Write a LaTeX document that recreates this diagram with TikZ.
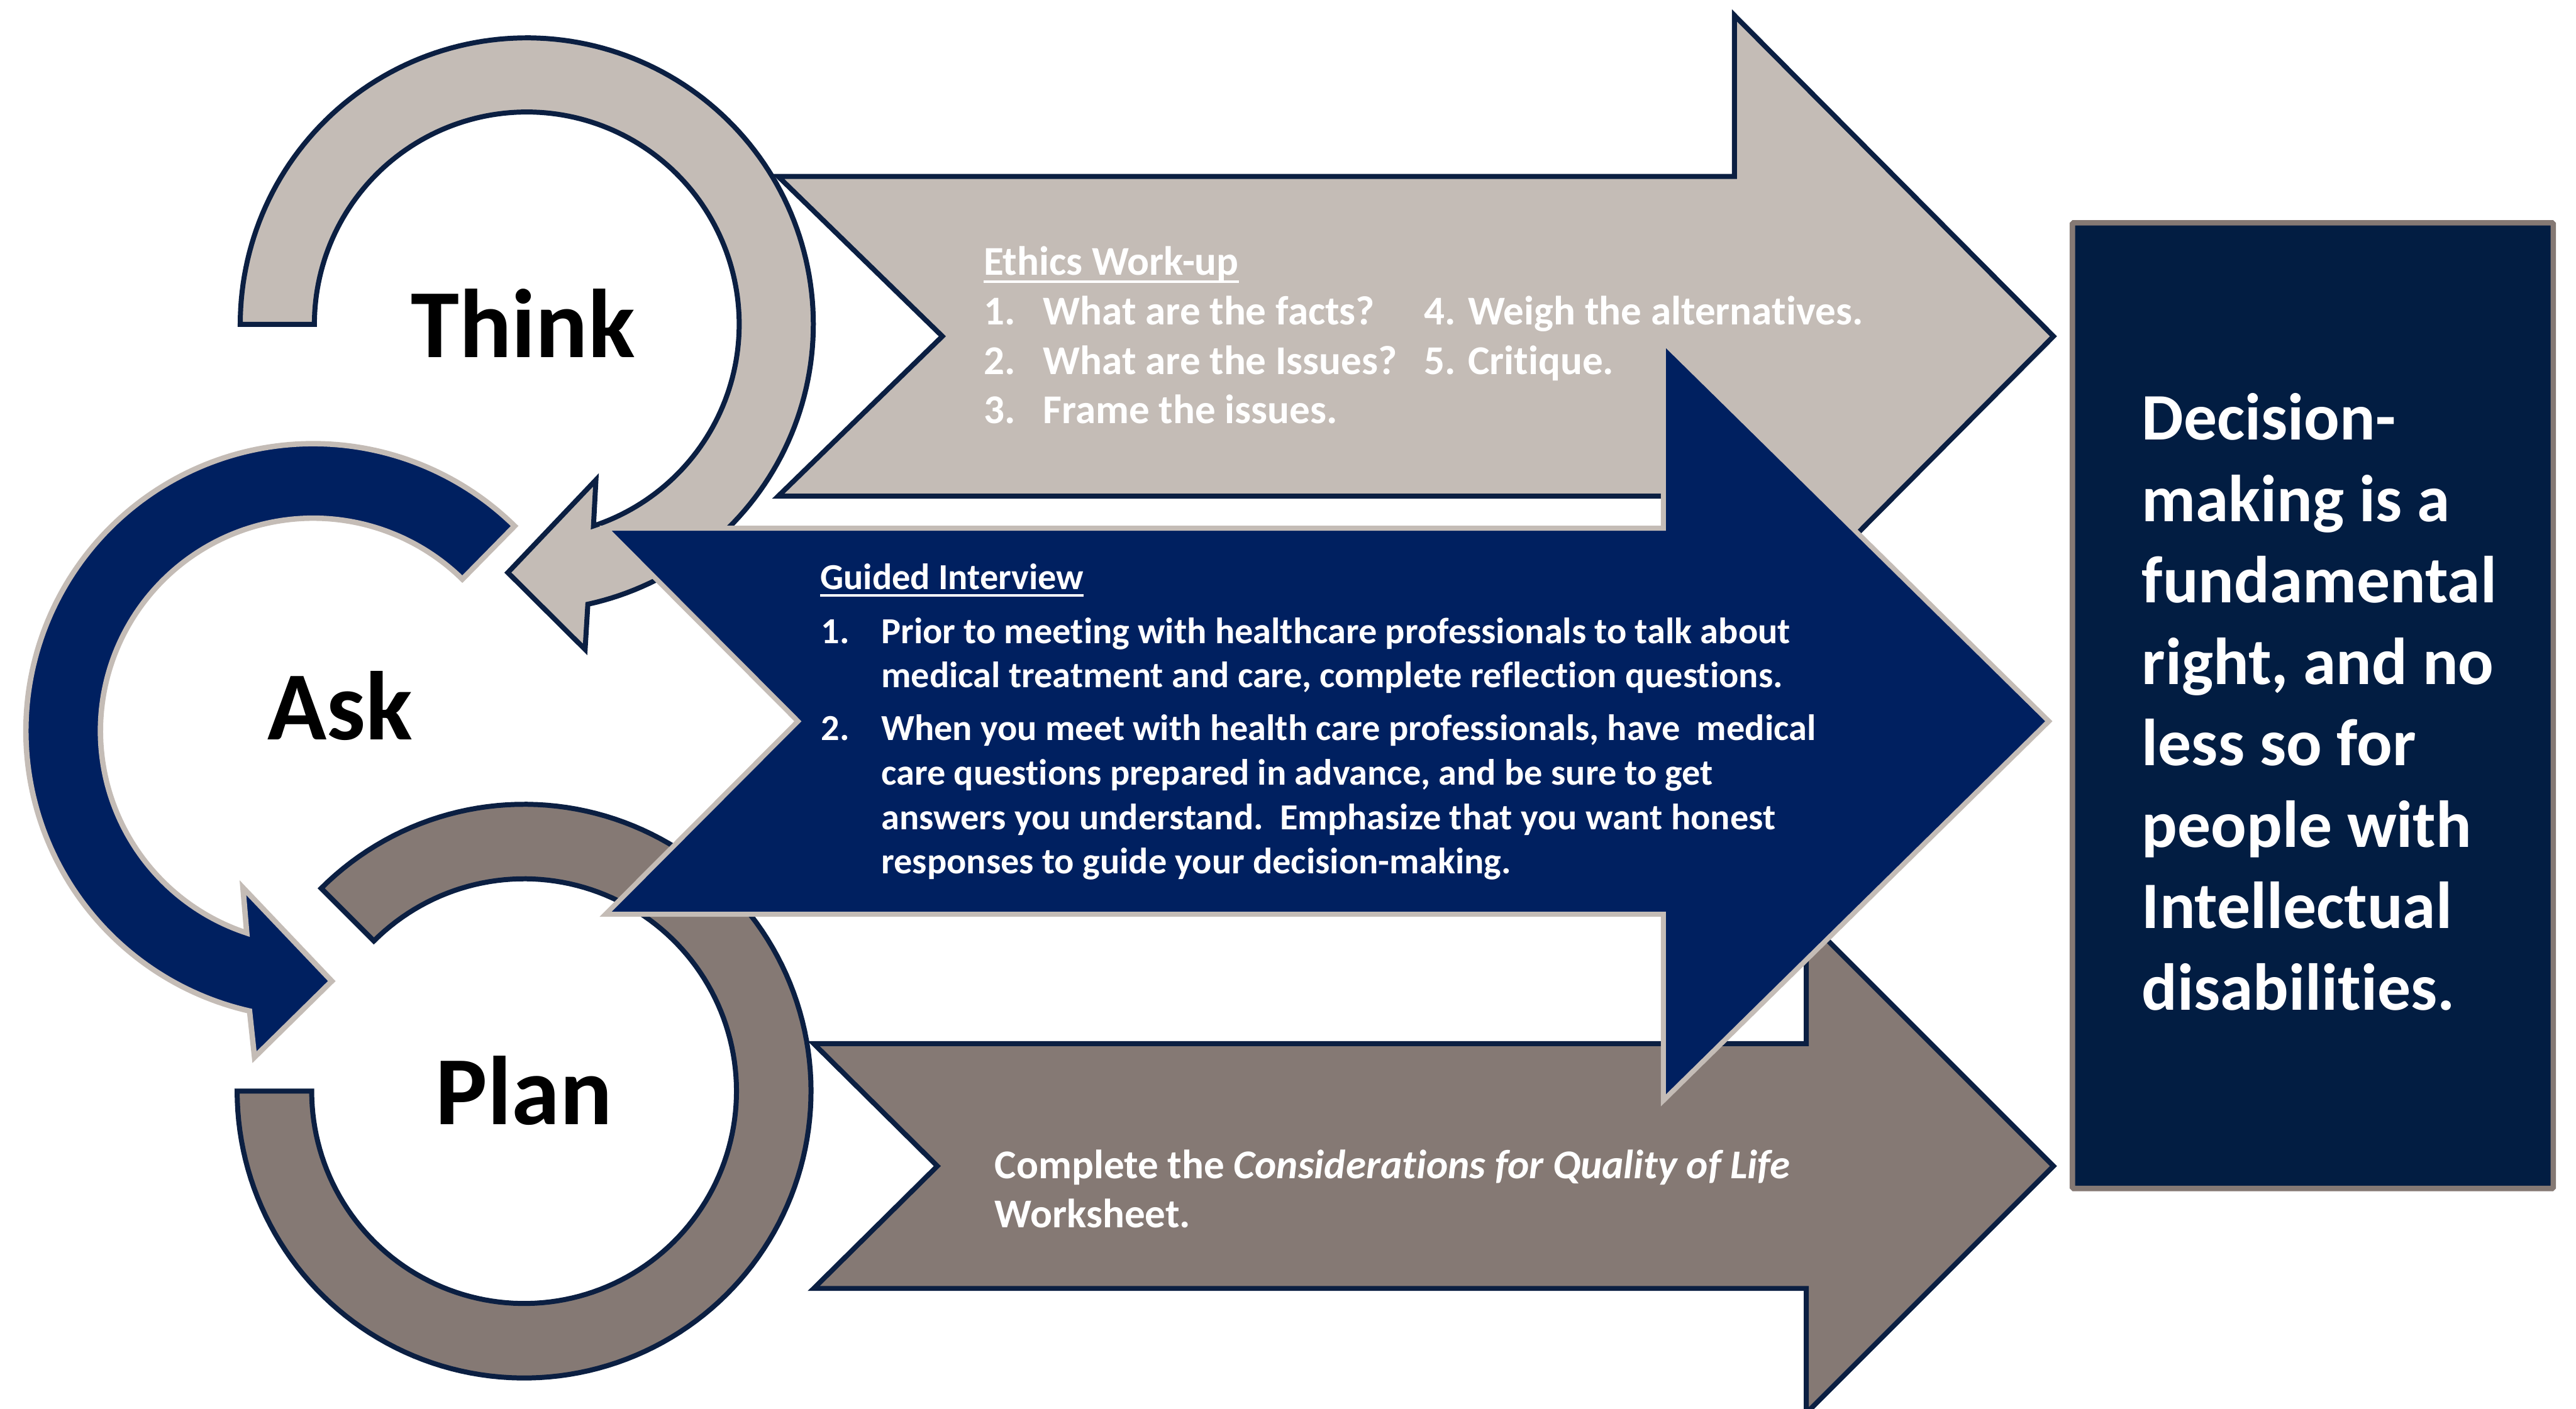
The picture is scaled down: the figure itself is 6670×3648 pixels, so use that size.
\documentclass[tikz,border=0pt]{standalone}
\usepackage{fontspec}
\setmainfont{Carlito}[Ligatures=NoCommon]
\definecolor{lgray}{HTML}{C4BCB6}
\definecolor{taupe}{HTML}{857974}
\definecolor{navyA}{HTML}{002060}
\definecolor{navyB}{HTML}{021D42}
\definecolor{outl}{HTML}{0B1F42}
\begin{document}
\begin{tikzpicture}[x=1pt,y=-1pt,line join=miter,
  txt/.style={inner sep=0pt,outer sep=0pt,text=white,anchor=base west},
  ethics/.style={txt,font=\fontsize{106}{127}\selectfont\bfseries},
  guided/.style={txt,font=\fontsize{95}{114}\selectfont\bfseries},
  boxtxt/.style={txt,font=\fontsize{172}{200}\selectfont\bfseries},
  label/.style={inner sep=0pt,outer sep=0pt,text=black,anchor=base,font=\fontsize{253}{280}\selectfont\bfseries},
  grayline/.style={draw=outl,line width=13},
  uline/.style={white,line width=6}]
\useasboundingbox (0,0) rectangle (6670,3648);
\fill[white] (0,0) rectangle (6670,3648);

% Plan ring (block arc)
\filldraw[fill=taupe,grayline]
  plot[domain=180:-135,samples=160,variable=\t] ({1357+743*cos(\t)},{2826+743*sin(\t)})
  -- plot[domain=-135:180,samples=160,variable=\t] ({1357+550*cos(\t)},{2826+550*sin(\t)}) -- cycle;

% Ask ring (circular arrow)
\filldraw[fill=navyA,draw=lgray,line width=14]
  plot[domain=-45.5:-257.2,samples=160,variable=\t] ({811+744*cos(\t)},{1893+744*sin(\t)})
  -- (659,2738) -- (859,2541) -- (629,2299)
  -- plot[domain=-251.8:-45.5,samples=160,variable=\t] ({811+551*cos(\t)},{1893+551*sin(\t)}) -- cycle;

% Think ring (circular arrow)
\filldraw[fill=lgray,grayline]
  plot[domain=180:437.7,samples=160,variable=\t] ({1364+742*cos(\t)},{840+742*sin(\t)})
  -- (1515,1682) -- (1315,1483) -- (1543,1243)
  -- plot[domain=431.7:180,samples=160,variable=\t] ({1364+550*cos(\t)},{840+550*sin(\t)}) -- cycle;

% bottom arrow
\filldraw[fill=taupe,grayline] (2107,2703) -- (4677,2703) -- (4677,2380) -- (5317,3020)
  -- (4677,3660) -- (4677,3337) -- (2107,3337) -- (2427,3020) -- cycle;
% top arrow
\filldraw[fill=lgray,grayline] (2015,457) -- (4491,457) -- (4491,40) -- (5317,871)
  -- (4491,1702) -- (4491,1285) -- (2015,1285) -- (2440,871) -- cycle;
% middle arrow
\filldraw[fill=navyA,draw=lgray,line width=13] (1568,1368) -- (4307,1368) -- (4307,886) -- (5305,1868)
  -- (4307,2850) -- (4307,2368) -- (1568,2368) -- (2066,1868) -- cycle;

% right box
\filldraw[fill=navyB,draw=taupe,line width=14,rounded corners=3] (5366,577) rectangle (6611,3078);

% labels
\node[label] (think) at (1354,925) {Think};
\node[label] (ask) at (880,1916) {Ask};
\node[label] (plan) at (1357,2912) {Plan};

% Ethics work-up
\node[ethics] (eh) at (2547,713) {Ethics Work-up};
\draw[uline] ([yshift=-17pt]eh.base west) -- ([yshift=-17pt]eh.base east);
\node[ethics] (e1n) at (2547,841) {1.};
\node[ethics] (e1) at (2701,841) {What are the facts?};
\node[ethics] (e4) at (3687,841) {4. Weigh the alternatives.};
\node[ethics] (e2n) at (2547,969) {2.};
\node[ethics] (e2) at (2701,969) {What are the Issues?};
\node[ethics] (e5) at (3687,969) {5. Critique.};
\node[ethics] (e3n) at (2547,1096) {3.};
\node[ethics] (e3) at (2701,1096) {Frame the issues.};

% Guided interview
\node[guided] (gh) at (2124,1527) {Guided Interview};
\draw[uline] ([yshift=-15pt]gh.base west) -- ([yshift=-15pt]gh.base east);
\node[guided] (g1n) at (2126,1666) {1.};
\node[guided] (g1a) at (2282,1666) {Prior to meeting with healthcare professionals to talk about};
\node[guided] (g1b) at (2282,1780) {medical treatment and care, complete reflection questions.};
\node[guided] (g2n) at (2126,1917) {2.};
\node[guided] (g2a) at (2282,1917) {When you meet with health care professionals, have\ \ medical};
\node[guided] (g2b) at (2282,2033) {care questions prepared in advance, and be sure to get};
\node[guided] (g2c) at (2282,2148) {answers you understand.\ \ Emphasize that you want honest};
\node[guided] (g2d) at (2282,2263) {responses to guide your decision-making.};

% Plan text
\node[ethics] (p1) at (2576,3053) {Complete the \textit{Considerations for Quality of Life}};
\node[ethics] (p2) at (2576,3180) {Worksheet.};

% box text
\node[boxtxt] (b1) at (5546,1139) {Decision-};
\node[boxtxt] (b2) at (5546,1350) {making is a};
\node[boxtxt] (b3) at (5546,1561) {fundamental};
\node[boxtxt] (b4) at (5546,1772) {right, and no};
\node[boxtxt] (b5) at (5546,1983) {less so for};
\node[boxtxt] (b6) at (5546,2194) {people with};
\node[boxtxt] (b7) at (5546,2405) {Intellectual};
\node[boxtxt] (b8) at (5546,2616) {disabilities.};
\end{tikzpicture}
\end{document}
